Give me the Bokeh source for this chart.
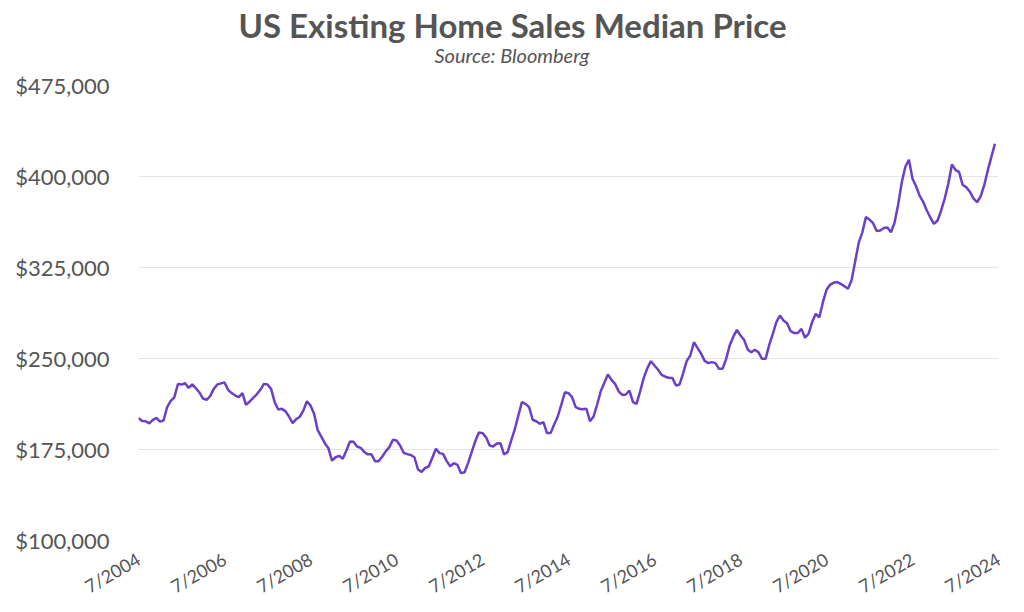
from math import pi
from bokeh.plotting import figure
from bokeh.models import Range1d, FixedTicker, NumeralTickFormatter, Title
from bokeh.embed import file_html
from bokeh.resources import INLINE

# Monthly median price, Jul 2004 .. Jun 2024 (USD)
prices = [
    # Jul 2004 - Jun 2005
    201000, 198500, 198300, 196500, 199500, 201000, 198000, 199000, 210000, 215000, 218000, 229000,
    # Jul 2005 - Jun 2006
    228500, 229600, 225800, 228600, 225500, 222000, 217000, 216000, 219000, 225000, 228600, 229500,
    # Jul 2006 - Jun 2007
    230200, 224200, 221500, 219500, 218100, 221400, 211800, 214500, 217600, 220500, 224200, 229100,
    # Jul 2007 - Jun 2008
    228600, 225000, 214000, 208000, 208500, 206600, 202200, 196700, 200000, 202000, 207000, 214800,
    # Jul 2008 - Jun 2009
    211300, 204400, 191000, 185700, 180200, 176000, 165900, 168600, 169800, 167300, 174000, 181500,
    # Jul 2009 - Jun 2010
    181300, 177500, 176400, 173000, 171000, 171000, 165400, 165400, 169000, 173500, 177000, 183000,
    # Jul 2010 - Jun 2011
    182400, 178300, 172300, 171200, 170500, 168600, 158500, 156600, 159900, 161000, 168200, 175600,
    # Jul 2011 - Jun 2012
    172000, 171400, 165400, 161200, 163700, 162400, 155500, 156300, 164000, 173000, 182000, 189000,
    # Jul 2012 - Jun 2013
    188500, 185000, 178300, 177500, 180000, 180200, 171000, 172800, 182400, 191500, 203000, 214000,
    # Jul 2013 - Jun 2014
    212600, 209900, 199500, 198300, 196200, 197500, 188500, 188500, 195600, 202200, 212000, 222200,
    # Jul 2014 - Jun 2015
    221400, 218100, 209900, 208500, 208200, 208500, 198300, 202200, 212100, 223000, 230000, 236800,
    # Jul 2015 - Jun 2016
    232400, 229100, 223000, 220000, 220300, 223600, 214000, 212600, 223000, 234000, 242000, 247800,
    # Jul 2016 - Jun 2017
    244200, 240700, 236500, 235000, 234100, 234000, 227700, 228600, 238000, 248000, 252500, 263400,
    # Jul 2017 - Jun 2018
    258800, 254000, 248000, 246200, 247000, 246200, 241500, 241500, 249700, 261000, 268000, 273600,
    # Jul 2018 - Jun 2019
    268900, 265400, 257500, 255200, 257200, 255200, 249700, 249700, 261000, 270000, 280000, 285400,
    # Jul 2019 - Jun 2020
    281300, 279000, 272500, 271000, 271000, 274400, 267100, 270400, 280000, 286800, 284000, 296400,
    # Jul 2020 - Jun 2021
    306600, 310700, 312500, 313000, 311500, 309500, 307400, 314500, 330000, 345500, 354000, 366500,
    # Jul 2021 - Jun 2022
    364500, 361500, 355000, 355500, 357500, 358000, 354100, 362000, 377000, 395000, 408000, 413800,
    # Jul 2022 - Jun 2023
    398100, 392000, 384000, 379000, 372000, 366000, 361000, 363700, 372000, 382000, 394000, 409900,
    # Jul 2023 - Jun 2024
    405500, 403600, 393000, 391200, 387500, 382000, 378800, 383500, 392600, 405000, 416000, 427000,
]
months = list(range(len(prices)))  # month index from Jul 2004

x_ticks = [0, 24, 48, 72, 96, 120, 144, 168, 192, 216, 240]
x_tick_labels = ["7/2004", "7/2006", "7/2008", "7/2010", "7/2012", "7/2014",
                 "7/2016", "7/2018", "7/2020", "7/2022", "7/2024"]
y_ticks = [100000, 175000, 250000, 325000, 400000, 475000]

TITLE = "US Existing Home Sales Median Price"
SUBTITLE = "Source: Bloomberg"

TEXT = "#555555"
FONT = "Lato"

p = figure(width=1024, height=612, output_backend="svg", toolbar_location=None,
           x_range=Range1d(0, 240), y_range=Range1d(100000, 475000),
           min_border_left=138, min_border_right=26, min_border_top=85, min_border_bottom=72)
p.title = None
p.outline_line_color = None
p.background_fill_color = "white"
p.border_fill_color = "white"

p.line(months, prices, line_color="#6a40c8", line_width=2.5)

# Y axis
p.yaxis.ticker = FixedTicker(ticks=y_ticks)
p.yaxis.formatter = NumeralTickFormatter(format="$0,0")
p.yaxis.axis_line_color = None
p.yaxis.major_tick_line_color = None
p.yaxis.minor_tick_line_color = None
p.yaxis.major_label_standoff = 23
p.yaxis.major_label_text_font = FONT
p.yaxis.major_label_text_font_size = "22px"
p.yaxis.major_label_text_color = TEXT

# X axis
p.xaxis.ticker = FixedTicker(ticks=x_ticks)
p.xaxis.major_label_overrides = {t: l for t, l in zip(x_ticks, x_tick_labels)}
p.xaxis.axis_line_color = None
p.xaxis.major_tick_line_color = None
p.xaxis.minor_tick_line_color = None
p.xaxis.major_label_orientation = pi / 6
p.xaxis.major_label_standoff = 11
p.xaxis.major_label_text_font = FONT
p.xaxis.major_label_text_font_size = "18px"
p.xaxis.major_label_text_color = TEXT

p.xgrid.grid_line_color = None
p.ygrid.ticker = FixedTicker(ticks=y_ticks)
p.ygrid.grid_line_color = "#e4e4e4"
p.ygrid.grid_line_width = 1

# Title and subtitle, centred on the page (left-aligned with offsets from frame left)
p.add_layout(Title(text=SUBTITLE, align="left", offset=296, text_font=FONT,
                   text_font_style="italic", text_font_size="20px",
                   text_color=TEXT, standoff=37), "above")
p.add_layout(Title(text=TITLE, align="left", offset=100,
                   text_font=FONT, text_font_style="bold", text_font_size="33px",
                   text_color=TEXT, standoff=-45), "above")

open("out.html", "w").write(file_html(p, INLINE))
